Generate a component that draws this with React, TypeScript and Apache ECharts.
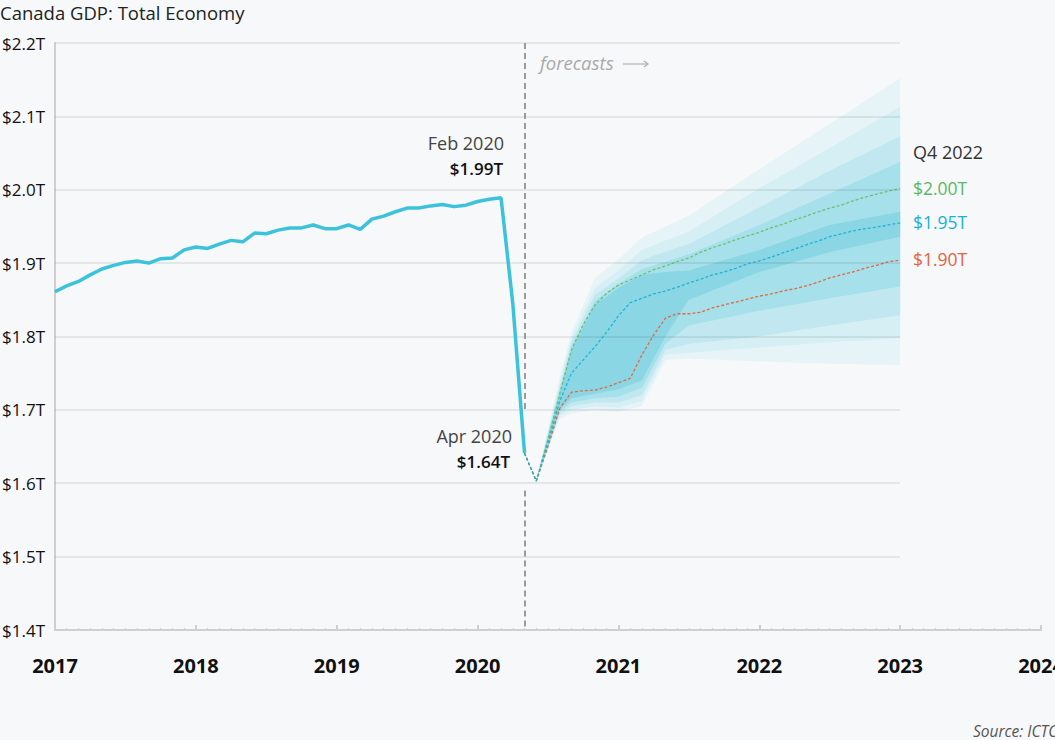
import React, { useEffect, useRef } from "react";
import * as echarts from "echarts";

// ---------- data ----------
const yTicks = [1.4, 1.5, 1.6, 1.7, 1.8, 1.9, 2.0, 2.1, 2.2];
const xYears = [2017, 2018, 2019, 2020, 2021, 2022, 2023, 2024];

// Monthly GDP (trillions), month-end Dec 2016 .. Apr 2020
const actualStart: [number, number] = [2016, 12];
const actualGdp = [
  1.861, 1.869, 1.875, 1.884, 1.892, 1.897, 1.901, 1.903, 1.900, 1.906, 1.907, 1.918,
  1.922, 1.920, 1.926, 1.931, 1.929, 1.941, 1.940, 1.945, 1.948, 1.948, 1.952, 1.947,
  1.947, 1.952, 1.946, 1.960, 1.964, 1.970, 1.975, 1.975, 1.978, 1.980, 1.977, 1.979,
  1.984, 1.987, 1.989, 1.845, 1.641,
];

// Forecast, month-end Apr 2020 .. Dec 2022
const forecastStart: [number, number] = [2020, 4];
const forecastMedian = [
  1.641, 1.603, 1.655, 1.712, 1.750, 1.768, 1.786, 1.806, 1.828, 1.846, 1.852, 1.858,
  1.862, 1.867, 1.873, 1.878, 1.884, 1.888, 1.893, 1.899, 1.903, 1.908, 1.914, 1.919,
  1.925, 1.930, 1.936, 1.940, 1.944, 1.947, 1.949, 1.952, 1.955,
];
const forecastHigh = [
  1.641, 1.603, 1.660, 1.722, 1.782, 1.816, 1.843, 1.859, 1.870, 1.877, 1.884, 1.891,
  1.896, 1.902, 1.907, 1.915, 1.921, 1.926, 1.932, 1.937, 1.942, 1.948, 1.953, 1.959,
  1.964, 1.970, 1.975, 1.979, 1.985, 1.990, 1.994, 1.998, 2.002,
];
const forecastLow = [
  1.641, 1.603, 1.650, 1.702, 1.724, 1.726, 1.727, 1.731, 1.737, 1.743, 1.775, 1.802,
  1.825, 1.831, 1.831, 1.833, 1.839, 1.843, 1.847, 1.851, 1.855, 1.858, 1.862, 1.865,
  1.869, 1.874, 1.880, 1.884, 1.888, 1.893, 1.897, 1.902, 1.904,
];

// Fan bands (outer -> inner)
const bandMonths: [number, number][] = [
  [2020, 5], [2020, 7], [2020, 8], [2020, 10], [2020, 12], [2021, 2],
  [2021, 4], [2021, 6], [2021, 12], [2022, 6], [2022, 12],
];
const bandUpper = [
  [1.603, 1.745, 1.805, 1.880, 1.905, 1.935, 1.950, 1.965, 2.028, 2.090, 2.152],
  [1.603, 1.738, 1.798, 1.866, 1.890, 1.918, 1.931, 1.943, 2.002, 2.057, 2.113],
  [1.603, 1.732, 1.792, 1.857, 1.879, 1.904, 1.916, 1.926, 1.976, 2.026, 2.073],
  [1.603, 1.727, 1.786, 1.849, 1.872, 1.892, 1.902, 1.912, 1.952, 1.995, 2.038],
  [1.603, 1.723, 1.782, 1.843, 1.866, 1.884, 1.888, 1.890, 1.918, 1.952, 1.970],
];
const bandLower = [
  [1.603, 1.688, 1.695, 1.700, 1.697, 1.705, 1.768, 1.770, 1.766, 1.763, 1.761],
  [1.603, 1.692, 1.700, 1.705, 1.703, 1.712, 1.775, 1.778, 1.785, 1.792, 1.798],
  [1.603, 1.695, 1.705, 1.710, 1.710, 1.720, 1.782, 1.790, 1.800, 1.815, 1.829],
  [1.603, 1.698, 1.710, 1.716, 1.718, 1.730, 1.790, 1.815, 1.835, 1.852, 1.868],
  [1.603, 1.701, 1.716, 1.722, 1.728, 1.740, 1.800, 1.850, 1.888, 1.915, 1.936],
];
const bandColors = ["#e6f4f7", "#d5eff4", "#c1e8f0", "#a6e0ea", "#8bd6e4"];

// ---------- helpers ----------
const FONT = "'Open Sans', 'Noto Sans', 'DejaVu Sans', sans-serif";
const monthEnd = (y: number, m: number) => y + m / 12;
const seriesFrom = (start: [number, number], vals: number[]) =>
  vals.map((v, i) => [monthEnd(start[0], start[1] + i), v]);
const forecastX = monthEnd(forecastStart[0], forecastStart[1]);

export default function App() {
  const ref = useRef<HTMLDivElement>(null);

  useEffect(() => {
    if (!ref.current) return;
    const chart = echarts.init(ref.current, undefined, { renderer: "svg" });
    const bandX = bandMonths.map((m) => monthEnd(m[0], m[1]));

    const option: any = {
      animation: false,
      backgroundColor: "#f7f8fa",
      textStyle: { fontFamily: FONT },
      grid: {
        left: 55,
        right: 14,
        top: 43,
        bottom: 110,
        containLabel: false,
        outerBoundsMode: "none",
      },
      xAxis: {
        type: "value",
        min: xYears[0],
        max: xYears[xYears.length - 1],
        interval: 1,
        axisLine: { show: true, lineStyle: { color: "#cfcfcf", width: 2 } },
        axisTick: { show: true, inside: true, length: 5, lineStyle: { color: "#cfcfcf", width: 2 } },
        minorTick: { show: true, splitNumber: 12, length: 2, lineStyle: { color: "#cfcfcf", width: 1 } },
        splitLine: { show: false },
        axisLabel: {
          margin: 25,
          fontSize: 20,
          fontWeight: "bold",
          color: "#111",
          fontFamily: FONT,
          formatter: (v: number) => String(Math.round(v)),
        },
      },
      yAxis: {
        type: "value",
        min: yTicks[0],
        max: yTicks[yTicks.length - 1],
        interval: 0.1,
        axisLine: { show: true, lineStyle: { color: "#cfcfcf", width: 2 } },
        axisTick: { show: false },
        splitLine: { show: false },
        axisLabel: {
          margin: 10,
          fontSize: 17,
          color: "#111",
          fontFamily: FONT,
          formatter: (v: number) => "$" + v.toFixed(1) + "T",
        },
      },
      series: [
        {
          type: "custom",
          name: "bands",
          silent: true,
          clip: true,
          z: 1,
          renderItem: (params: any, api: any) => {
            const i = params.dataIndex;
            const up = bandX.map((x, j) => api.coord([x, bandUpper[i][j]]));
            const lo = bandX.map((x, j) => api.coord([x, bandLower[i][j]])).reverse();
            return {
              type: "polygon",
              shape: { points: up.concat(lo) },
              style: { fill: bandColors[i] },
            };
          },
          data: bandUpper.map((u) => [bandX[bandX.length - 1], u[u.length - 1]]),
        },
        {
          type: "line",
          name: "grid",
          silent: true,
          z: 2,
          symbol: "none",
          lineStyle: { opacity: 0 },
          data: [[xYears[0], yTicks[0]]],
          markLine: {
            silent: true,
            symbol: ["none", "none"],
            label: { show: false },
            lineStyle: { color: "rgba(0,0,0,0.07)", width: 2, type: "solid" },
            data: yTicks
              .filter((v) => v > yTicks[0])
              .map((v) => [{ coord: [xYears[0], v] }, { coord: [2023, v] }]),
          },
        },
        {
          type: "line",
          name: "divider",
          silent: true,
          z: 3,
          symbol: "none",
          lineStyle: { opacity: 0 },
          data: [[forecastX, 2.2]],
          markLine: {
            silent: true,
            symbol: ["none", "none"],
            label: { show: false },
            lineStyle: { color: "#9b9b9b", width: 2, type: [6, 4] },
            data: [
              [{ coord: [forecastX, 2.2] }, { coord: [forecastX, 1.7] }],
              [{ coord: [forecastX, 1.59] }, { coord: [forecastX, 1.4] }],
            ],
          },
        },
        {
          type: "line",
          name: "high",
          z: 4,
          symbol: "none",
          silent: true,
          lineStyle: { color: "#6cc071", width: 1.3, type: [3, 2] },
          data: seriesFrom(forecastStart, forecastHigh),
        },
        {
          type: "line",
          name: "low",
          z: 4,
          symbol: "none",
          silent: true,
          lineStyle: { color: "#e2693f", width: 1.3, type: [3, 2] },
          data: seriesFrom(forecastStart, forecastLow),
        },
        {
          type: "line",
          name: "median",
          z: 5,
          symbol: "none",
          silent: true,
          lineStyle: { color: "#1fb4d6", width: 1.3, type: [3, 2] },
          data: seriesFrom(forecastStart, forecastMedian),
        },
        {
          type: "line",
          name: "actual",
          z: 6,
          symbol: "none",
          silent: true,
          lineStyle: { color: "#3cc2da", width: 3.5 },
          data: seriesFrom(actualStart, actualGdp),
        },
      ],
      graphic: [
        {
          type: "text",
          x: 0,
          y: 12,
          style: { text: "Canada GDP: Total Economy", font: `18.5px ${FONT}`, fill: "#222", textVerticalAlign: "middle" },
        },
        {
          type: "text",
          x: 540,
          y: 62,
          style: {
            text: "forecasts",
            font: `italic 18.5px ${FONT}`,
            fill: "#a9a9a9",
            textVerticalAlign: "middle",
          },
        },
        {
          type: "line",
          shape: { x1: 623, y1: 64, x2: 648, y2: 64 },
          style: { stroke: "#b0b0b0", lineWidth: 1.2 },
        },
        {
          type: "polyline",
          shape: { points: [[644, 61], [648, 64], [644, 67]] },
          style: { stroke: "#b0b0b0", lineWidth: 1.2, fill: "none" },
        },
        {
          type: "text",
          x: 504,
          y: 143,
          style: { text: "Feb 2020", font: `18px ${FONT}`, fill: "#444", textAlign: "right", textVerticalAlign: "middle" },
        },
        {
          type: "text",
          x: 503,
          y: 168,
          style: { text: "$1.99T", font: `600 17px ${FONT}`, fill: "#111", textAlign: "right", textVerticalAlign: "middle" },
        },
        {
          type: "text",
          x: 512,
          y: 436,
          style: { text: "Apr 2020", font: `18px ${FONT}`, fill: "#444", textAlign: "right", textVerticalAlign: "middle" },
        },
        {
          type: "text",
          x: 510,
          y: 461,
          style: { text: "$1.64T", font: `600 17px ${FONT}`, fill: "#111", textAlign: "right", textVerticalAlign: "middle" },
        },
        {
          type: "text",
          x: 913,
          y: 152,
          style: { text: "Q4 2022", font: `18px ${FONT}`, fill: "#333", textVerticalAlign: "middle" },
        },
        {
          type: "text",
          x: 913,
          y: 188,
          style: { text: "$2.00T", font: `17.5px ${FONT}`, fill: "#5cb862", textVerticalAlign: "middle" },
        },
        {
          type: "text",
          x: 913,
          y: 222,
          style: { text: "$1.95T", font: `17.5px ${FONT}`, fill: "#18b1d6", textVerticalAlign: "middle" },
        },
        {
          type: "text",
          x: 913,
          y: 259,
          style: { text: "$1.90T", font: `17.5px ${FONT}`, fill: "#e4643a", textVerticalAlign: "middle" },
        },
        {
          type: "text",
          x: 973,
          y: 731,
          style: { text: "Source: ICTC", font: `italic 15.5px ${FONT}`, fill: "#555", textVerticalAlign: "middle" },
        },
      ],
    };

    chart.setOption(option);
    return () => chart.dispose();
  }, []);

  return (
    <div
      ref={ref}
      style={{ position: "absolute", left: 0, top: 0, width: 1055, height: 740 }}
    />
  );
}
